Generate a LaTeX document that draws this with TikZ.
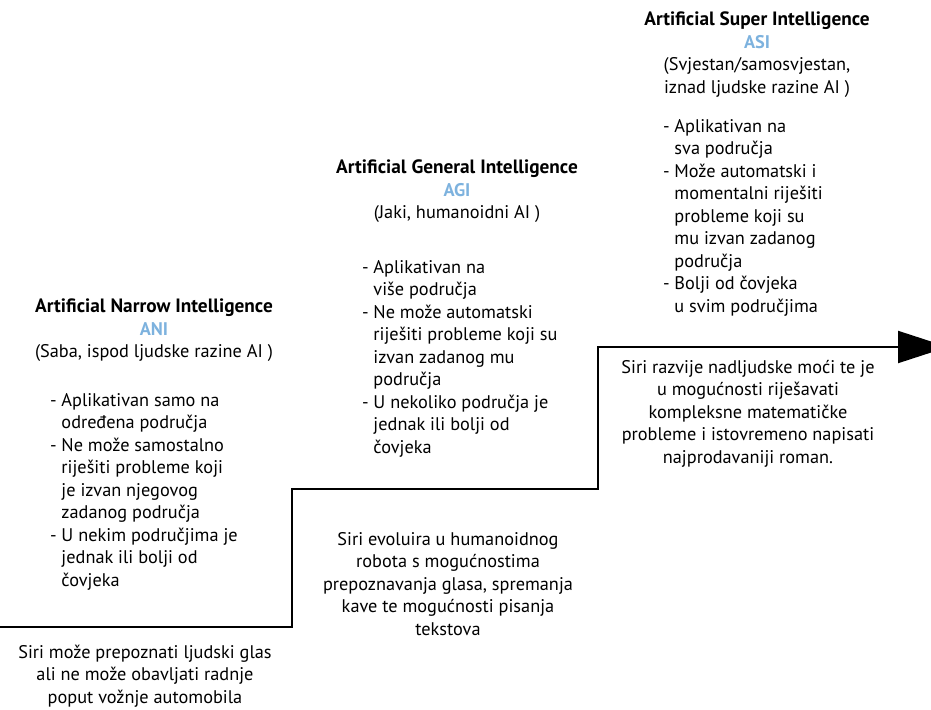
\documentclass[tikz,border=0pt]{standalone}
\usepackage{fontspec}
\setmainfont{PT Sans}
\usetikzlibrary{arrows.meta}
\definecolor{aiblue}{RGB}{125,178,222}
\tikzset{
  txt/.style={inner sep=0pt, outer sep=0pt, font=\fontsize{18.3}{22.5}\selectfont},
  head/.style={txt, align=center, anchor=north},
  blist/.style={txt, align=left, anchor=north west},
  example/.style={txt, align=center, anchor=north},
  stepline/.style={line width=2pt, line join=miter},
}
\newcommand{\ind}{\phantom{- }}
\newcommand{\ttl}[1]{{\fontsize{19.3}{22.5}\selectfont\bfseries #1}}
\begin{document}
\begin{tikzpicture}[x=1pt,y=-1pt]
\useasboundingbox (0,0) rectangle (931,709);
% ANI
\node[head] (aniHead) at (154,299) {\ttl{Artificial Narrow Intelligence}\\ \textcolor{aiblue}{\textbf{ANI}}\\ (Saba, ispod ljudske razine AI )};
\node[blist] (aniList) at (50,393) {- Aplikativan samo na\\ \ind određena područja\\ - Ne može samostalno\\ \ind riješiti probleme koji\\ \ind je izvan njegovog\\ \ind zadanog područja\\ - U nekim područjima je\\ \ind jednak ili bolji od\\ \ind čovjeka};
\node[example] (aniEx) at (145,645) {Siri može prepoznati ljudski glas\\ ali ne može obavljati radnje\\ poput vožnje automobila};
% AGI
\node[head] (agiHead) at (457,160) {\ttl{Artificial General Intelligence}\\ \textcolor{aiblue}{\textbf{AGI}}\\ (Jaki, humanoidni AI )};
\node[blist] (agiList) at (362,260) {- Aplikativan na\\ \ind više područja\\ - Ne može automatski\\ \ind riješiti probleme koji su\\ \ind izvan zadanog mu\\ \ind područja\\ - U nekoliko područja je\\ \ind jednak ili bolji od\\ \ind čovjeka};
\node[example] (agiEx) at (448,532) {Siri evoluira u humanoidnog\\ robota s mogućnostima\\ prepoznavanja glasa, spremanja\\ kave te mogućnosti pisanja\\ tekstova};
% ASI
\node[head] (asiHead) at (757,12) {\ttl{Artificial Super Intelligence}\\ \textcolor{aiblue}{\textbf{ASI}}\\ (Svjestan/samosvjestan,\\ iznad ljudske razine AI )};
\node[blist] (asiList) at (663,119) {- Aplikativan na\\ \ind sva područja\\ - Može automatski i\\ \ind momentalni riješiti\\ \ind probleme koji su\\ \ind mu izvan zadanog\\ \ind područja\\ - Bolji od čovjeka\\ \ind u svim područjima};
\node[example] (asiEx) at (748,360) {Siri razvije nadljudske moći te je\\ u mogućnosti riješavati\\ kompleksne matematičke\\ probleme i istovremeno napisati\\ najprodavaniji roman.};
% staircase
\coordinate (s0) at (0,627);
\coordinate (s1) at (292,627);
\coordinate (s2) at (292,489);
\coordinate (s3) at (598,489);
\coordinate (s4) at (598,347);
\coordinate (s5) at (948,347);
\draw[stepline, -{Triangle[length=50pt,width=32pt]}] (s0) -- (s1) -- (s2) -- (s3) -- (s4) -- (s5);
\end{tikzpicture}
\end{document}
